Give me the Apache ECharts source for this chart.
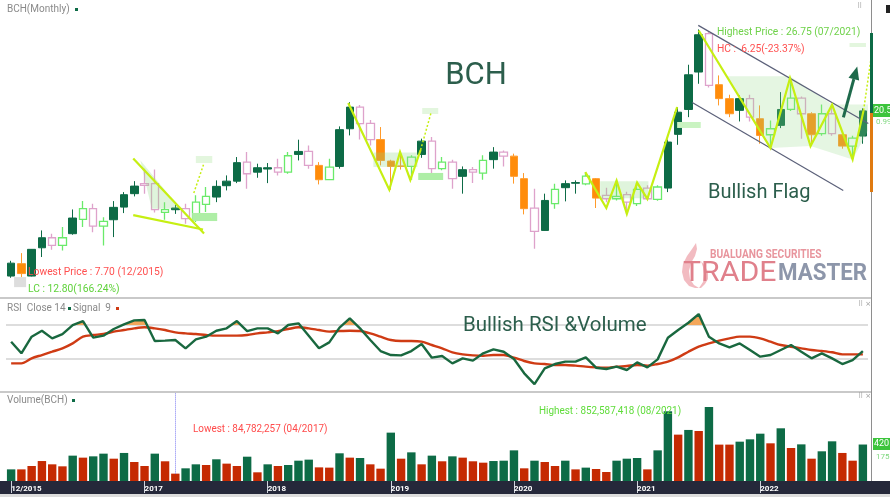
<!DOCTYPE html>
<html>
<head>
<meta charset="utf-8">
<title>BCH Monthly</title>
<script src="https://cdn.jsdelivr.net/npm/echarts@6/dist/echarts.min.js"></script>
<style>
  html, body { margin: 0; padding: 0; background: #fff; }
  #main { width: 890px; height: 497px; }
</style>
</head>
<body>
<div id="main"></div>
<script type="text/javascript">
// months shown on the chart (12/2015 .. 11/2022)
var months = [
  '12/2015',
  '01/2016','02/2016','03/2016','04/2016','05/2016','06/2016','07/2016','08/2016','09/2016','10/2016','11/2016','12/2016',
  '01/2017','02/2017','03/2017','04/2017','05/2017','06/2017','07/2017','08/2017','09/2017','10/2017','11/2017','12/2017',
  '01/2018','02/2018','03/2018','04/2018','05/2018','06/2018','07/2018','08/2018','09/2018','10/2018','11/2018','12/2018',
  '01/2019','02/2019','03/2019','04/2019','05/2019','06/2019','07/2019','08/2019','09/2019','10/2019','11/2019','12/2019',
  '01/2020','02/2020','03/2020','04/2020','05/2020','06/2020','07/2020','08/2020','09/2020','10/2020','11/2020','12/2020',
  '01/2021','02/2021','03/2021','04/2021','05/2021','06/2021','07/2021','08/2021','09/2021','10/2021','11/2021','12/2021',
  '01/2022','02/2022','03/2022','04/2022','05/2022','06/2022','07/2022','08/2022','09/2022','10/2022','11/2022'
];
var tickMonths = ['12/2015', '01/2017', '01/2018', '01/2019', '01/2020', '01/2021', '01/2022'];
var tickTexts  = ['12/2015', '2017', '2018', '2019', '2020', '2021', '2022'];

var opens = [
  7.83, 8.78, 7.83, 10.00, 10.77, 10.18, 11.08, 12.18, 13.00, 11.66,
  12.15, 13.12, 14.15, 14.92, 14.92, 12.71, 12.92, 13.00, 12.23, 13.33,
  13.89, 14.76, 15.11, 16.57, 15.80, 16.04, 16.14, 15.80, 17.16, 17.39,
  16.32, 15.22, 16.24, 19.13, 20.79, 19.55, 18.30, 16.65, 16.28, 16.24,
  17.16, 18.18, 16.07, 16.57, 15.48, 15.99, 15.73, 16.76, 17.34, 17.03,
  15.30, 13.04, 11.33, 13.38, 14.61, 14.95, 14.90, 15.30, 14.02, 13.76,
  14.07, 13.38, 14.58, 13.71, 14.58, 18.70, 20.61, 23.48, 26.42, 22.51,
  21.44, 20.54, 21.44, 19.90, 18.67, 19.39, 20.61, 21.48, 20.28, 18.75,
  20.28, 18.67, 17.80, 18.57
];
var highs = [
  9.00, 9.59, 9.90, 11.33, 11.08, 11.59, 12.94, 13.58, 13.38, 12.35,
  13.58, 14.27, 15.11, 16.07, 16.00, 13.50, 13.30, 13.38, 14.02, 14.66,
  15.17, 15.55, 16.96, 17.34, 16.45, 16.50, 16.83, 17.34, 18.29, 17.85,
  16.57, 16.83, 19.31, 21.17, 20.95, 19.80, 19.26, 16.75, 17.34, 17.10,
  18.37, 18.50, 16.96, 16.76, 16.24, 16.19, 17.09, 17.72, 17.47, 17.22,
  15.73, 14.53, 14.15, 14.92, 15.17, 15.17, 15.80, 15.35, 14.60, 15.17,
  14.30, 14.99, 14.80, 14.80, 18.30, 20.80, 24.04, 26.75, 26.60, 23.22,
  21.74, 21.69, 21.74, 20.92, 19.77, 21.94, 22.97, 21.60, 20.40, 21.00,
  20.97, 18.80, 18.60, 20.70
];
var lows = [
  7.70, 7.75, 7.80, 9.29, 9.85, 9.80, 11.00, 11.59, 11.20, 10.18,
  10.82, 12.66, 13.94, 14.15, 12.70, 12.15, 12.60, 11.85, 11.97, 12.74,
  13.50, 14.40, 14.96, 14.53, 15.37, 14.96, 15.55, 15.68, 16.70, 16.07,
  14.86, 15.17, 16.07, 18.62, 18.30, 17.85, 16.32, 14.45, 16.00, 15.22,
  16.90, 15.73, 15.94, 14.53, 14.15, 14.96, 15.22, 16.07, 16.24, 14.92,
  12.56, 9.93, 11.30, 13.00, 13.56, 14.15, 14.80, 13.05, 13.50, 13.63,
  12.61, 13.20, 13.70, 13.60, 14.27, 17.90, 20.02, 22.58, 22.30, 20.92,
  20.02, 19.69, 19.69, 17.98, 17.75, 19.18, 20.50, 18.37, 17.80, 18.60,
  18.60, 17.60, 16.80, 17.98
];
var closes = [
  8.82, 8.02, 9.88, 10.77, 10.18, 10.77, 12.28, 13.00, 11.66, 12.02,
  13.10, 14.07, 14.73, 14.78, 12.92, 12.92, 13.05, 12.23, 13.50, 13.94,
  14.71, 15.11, 16.53, 15.68, 16.14, 16.14, 15.80, 17.06, 17.39, 16.32,
  15.22, 16.19, 19.06, 20.79, 19.52, 18.30, 16.70, 16.24, 16.24, 16.96,
  18.18, 16.07, 16.57, 15.30, 15.99, 15.80, 16.70, 17.34, 17.03, 15.48,
  13.00, 11.26, 13.63, 14.48, 14.92, 15.00, 15.50, 13.81, 13.76, 13.94,
  13.50, 14.48, 13.76, 14.66, 18.11, 20.40, 23.27, 26.34, 22.45, 21.44,
  20.28, 21.44, 20.02, 18.62, 19.13, 20.61, 21.48, 20.28, 18.67, 20.28,
  18.75, 17.80, 18.41, 20.50
];
// candle look:
// G dark green solid, O orange solid, P pink hollow, L light green hollow
var candleKind = ('GOGGPLGLPL' + 'GGGPPLGPLL' + 'GGGPGGPLGP' + 'OLGGPPOOOL' + 'GPLPGPLGPO' +
                  'OPGLGGLOPL' + 'PLPLGGGGPO' + 'OGPOLGLPOL' + 'POLG').split('');

// volume in millions of shares
var volumeM = [
  134, 134, 173, 230, 192, 169, 292, 269, 284, 315,
  257, 323, 219, 173, 315, 227, 84.78, 146, 192, 184,
  250, 200, 173, 280, 100, 192, 173, 184, 234, 246,
  157, 154, 319, 269, 265, 192, 142, 557, 257, 330,
  192, 292, 227, 284, 269, 227, 211, 230, 234, 353,
  146, 234, 219, 173, 234, 134, 154, 138, 104, 234,
  257, 265, 134, 353, 803, 534, 588, 576, 852.59, 419,
  419, 453, 480, 545, 434, 607, 380, 422, 257, 342,
  457, 323, 234, 420.1
];
var volumeSide = ('gruurrgrgg' + 'rgrrgrrggr' + 'grrgrgrggg' + 'rrgrgrrgrg' + 'rgrgrrrggg' +
                  'rgrrgrgrrg' + 'ggrggrgrgr' + 'rgggrgrgrg' + 'grrg').split('');

var rsi14 = [
  50.4, 36.7, 56.3, 63.3, 54.3, 59.4, 70.0, 74.7, 55.1, 57.5,
  65.3, 70.8, 75.5, 75.9, 51.2, 51.6, 52.4, 42.6, 53.1, 56.3,
  63.3, 66.1, 74.7, 62.9, 66.1, 66.1, 60.2, 70.0, 72.0, 57.5,
  42.6, 49.6, 66.9, 77.8, 66.1, 52.4, 39.4, 34.7, 34.3, 39.4,
  47.7, 31.6, 33.5, 24.9, 30.8, 28.1, 36.7, 41.4, 38.6, 30.0,
  13.2, 0.5, 19.0, 24.1, 26.9, 26.9, 32.0, 19.8, 18.3, 21.0,
  17.1, 26.1, 20.2, 29.6, 55.1, 64.1, 72.7, 82.9, 56.3, 48.4,
  43.7, 48.4, 40.6, 32.8, 34.7, 40.6, 46.5, 38.6, 30.8, 36.7,
  30.8, 24.1, 28.8, 39.4
];
var rsiSignal9 = [
  24.9, 24.9, 30.8, 34.7, 38.6, 42.6, 48.4, 56.3, 58.2, 59.4,
  62.2, 64.1, 66.1, 67.3, 66.1, 64.1, 61.4, 60.2, 59.4, 58.2,
  57.5, 57.5, 57.5, 58.2, 60.2, 61.4, 62.9, 65.3, 67.3, 66.1,
  64.1, 62.2, 62.9, 63.3, 62.9, 60.2, 56.3, 52.4, 51.2, 51.2,
  50.4, 46.5, 42.6, 37.9, 35.5, 34.3, 33.9, 34.7, 34.7, 31.6,
  27.7, 24.9, 24.1, 23.0, 23.0, 22.2, 21.0, 20.2, 19.8, 21.0,
  21.8, 23.0, 22.2, 24.1, 26.9, 32.0, 38.6, 44.5, 48.4, 51.6,
  54.3, 56.3, 56.3, 54.3, 50.4, 46.5, 44.5, 42.6, 40.6, 39.4,
  37.9, 35.5, 35.5, 35.5
];
var rsiLevels = [70, 30];

// drawn annotations, in (month index, price)
var pennantUpper = [[11.9, 16.85], [18.8, 11.1]];
var pennantLower = [[11.9, 12.5], [18.7, 11.4]];
var pennantShade = [[12.6, 16.7], [13.7, 13.0], [16.5, 13.0]];
var pennantBreakout = [[17.8, 14.2], [18.8, 16.5]];
var wLeg = [[32.85, 21.1], [36.85, 14.45], [37.9, 17.35], [38.9, 15.2], [39.9, 17.5]];
var wBreakout = [[39.9, 17.5], [40.9, 20.3]];
var wShade = [[35.3, 17.3], [39.6, 16.2]];
var baseLeg = [[55.95, 15.8], [58.0, 13.05], [59.0, 15.15], [60.0, 12.6], [61.0, 15.0], [62.0, 13.75], [64.9, 20.8]];
var baseShade = [[57.4, 15.1], [62.1, 13.8]];
var flagLeg = [[67.0, 26.67], [74.0, 17.65], [75.9, 23.0], [77.9, 17.8], [80.0, 20.97], [82.0, 16.78], [83.07, 20.54]];
var flagBreakout = [[83.07, 20.54], [83.9, 25.1]];
var flagShade = [[69.7, 23.15], [75.9, 23.15], [80.0, 21.0], [83.5, 21.0], [83.5, 19.0], [82.0, 16.78], [77.9, 17.8], [74.0, 17.65]];
var channelUpper = [[66.96, 27.06], [83.53, 19.54]];
var channelLower = [[66.37, 21.15], [81.09, 14.4]];
var breakoutArrow = [[81.1, 20.0], [82.45, 23.9]];
var tagBoxes = [
  [[18.0, 17.04], [19.6, 16.5]],
  [[17.64, 12.67], [20.08, 12.05]],
  [[40.06, 20.72], [41.62, 20.26]],
  [[39.67, 15.74], [42.1, 15.2]],
  [[64.9, 19.65], [67.2, 19.19]],
  [[81.7, 25.71], [83.3, 25.4]],
  [[0.29, 7.75], [1.46, 6.98]]
];
var tagFills = ['#e3f6de', '#aeeea6', '#e3f6de', '#aeeea6', '#c9f3c1', '#e3f6de', '#dddddd'];

var chartDom = document.getElementById('main');
var myChart = echarts.init(chartDom, null, {renderer: 'canvas'});

var darkGreen = '#0d6b46';
var lime = '#c6ef12';
var uiFont = 'Roboto, sans-serif';

var kindStyle = {
  G: {color: darkGreen, color0: darkGreen, borderColor: darkGreen, borderColor0: darkGreen, borderWidth: 1},
  O: {color: '#ff8c0a', color0: '#ff8c0a', borderColor: '#ff9a2a', borderColor0: '#ff9a2a', borderWidth: 1},
  P: {color: '#ffffff', color0: '#ffffff', borderColor: '#dea2cb', borderColor0: '#dea2cb', borderWidth: 1.3},
  L: {color: '#ffffff', color0: '#ffffff', borderColor: '#6aea6a', borderColor0: '#6aea6a', borderWidth: 1.3}
};

var candles = months.map(function (m, i) {
  return {value: [opens[i], closes[i], lows[i], highs[i]], itemStyle: kindStyle[candleKind[i]]};
});
var volumes = volumeM.map(function (v, i) {
  return {value: v, itemStyle: {color: volumeSide[i] === 'g' ? darkGreen : '#c52a02'}};
});

// pieces of the RSI line above the 70 level, with the crossing points
function overLevel(vals, level) {
  var polys = [], cur = null;
  for (var i = 0; i < vals.length; i++) {
    var v = vals[i];
    if (i > 0) {
      var pv = vals[i - 1];
      if ((pv > level) !== (v > level)) {
        var x = i - 1 + (level - pv) / (v - pv);
        if (cur) { cur.push([x, level]); polys.push(cur); cur = null; }
        else cur = [[x, level]];
      }
    }
    if (v > level) {
      if (!cur) cur = [[i, level]];
      cur.push([i, v]);
    }
  }
  if (cur) { cur.push([vals.length - 1, level]); polys.push(cur); }
  return polys;
}

function noteSeries(xi, yi, notes, z) {
  return {
    type: 'custom', xAxisIndex: xi, yAxisIndex: yi, z: z, silent: true, clip: false,
    data: notes.map(function (n) { return n.pts[0]; }),
    renderItem: function (params, api) {
      var n = notes[params.dataIndex];
      var pts = n.pts.map(function (p) { return api.coord(p); });
      if (n.kind === 'box') {
        return {type: 'rect', shape: {
          x: Math.min(pts[0][0], pts[1][0]), y: Math.min(pts[0][1], pts[1][1]),
          width: Math.abs(pts[1][0] - pts[0][0]), height: Math.abs(pts[1][1] - pts[0][1])
        }, style: {fill: n.fill}};
      }
      if (n.kind === 'poly') {
        return {type: 'polygon', shape: {points: pts}, style: {fill: n.fill}};
      }
      if (n.kind === 'arrow') {
        var a = pts[0], b = pts[1];
        var ang = Math.atan2(b[1] - a[1], b[0] - a[0]), L = 13, W = 5.5;
        var base = [b[0] - L * Math.cos(ang), b[1] - L * Math.sin(ang)];
        return {type: 'group', children: [
          {type: 'line', shape: {x1: a[0], y1: a[1], x2: base[0], y2: base[1]}, style: {stroke: n.color, lineWidth: n.width}},
          {type: 'polygon', shape: {points: [b,
            [base[0] + W * Math.sin(ang), base[1] - W * Math.cos(ang)],
            [base[0] - W * Math.sin(ang), base[1] + W * Math.cos(ang)]]}, style: {fill: n.color}}
        ]};
      }
      return {type: 'polyline', shape: {points: pts},
        style: {stroke: n.color, lineWidth: n.width, fill: null, lineDash: n.dash || null}};
    }
  };
}

var shadeFill = 'rgba(140,215,130,0.28)';
var priceNotes = [
  {kind: 'poly', pts: pennantShade, fill: shadeFill},
  {kind: 'box', pts: wShade, fill: shadeFill},
  {kind: 'box', pts: baseShade, fill: shadeFill},
  {kind: 'poly', pts: flagShade, fill: 'rgba(150,220,140,0.25)'}
];
tagBoxes.forEach(function (b, i) { priceNotes.push({kind: 'box', pts: b, fill: tagFills[i]}); });
priceNotes = priceNotes.concat([
  {kind: 'line', pts: channelUpper, color: '#5b6079', width: 1.2},
  {kind: 'line', pts: channelLower, color: '#5b6079', width: 1.2},
  {kind: 'line', pts: pennantUpper, color: lime, width: 2.2},
  {kind: 'line', pts: pennantLower, color: lime, width: 2.2},
  {kind: 'line', pts: pennantBreakout, color: lime, width: 1.5, dash: [2, 2]},
  {kind: 'line', pts: wLeg, color: lime, width: 2.2},
  {kind: 'line', pts: wBreakout, color: lime, width: 1.5, dash: [2, 2]},
  {kind: 'line', pts: baseLeg, color: lime, width: 2.2},
  {kind: 'line', pts: flagLeg, color: lime, width: 2.2},
  {kind: 'line', pts: flagBreakout, color: lime, width: 1.5, dash: [2, 2]},
  {kind: 'arrow', pts: breakoutArrow, color: '#1e6a4b', width: 3}
]);

var rsiNotes = overLevel(rsi14, rsiLevels[0]).map(function (p) {
  return {kind: 'poly', pts: p, fill: '#f4a75a'};
});

var isTick = function (i, v) { return tickMonths.indexOf(v) >= 0; };

function txt(x, y, text, font, fill, align, sx) {
  return {type: 'text', x: x, y: y, z: 100, silent: true, scaleX: sx || 1, style: {
    text: text, font: font, fill: fill,
    align: align || 'left', textAlign: align || 'left',
    verticalAlign: 'middle', textVerticalAlign: 'middle'
  }};
}
function box(x, y, w, h, fill, z) {
  return {type: 'rect', z: z || 90, silent: true, shape: {x: x, y: y, width: w, height: h}, style: {fill: fill}};
}
function shape(points, fill) {
  return {type: 'polygon', z: 1, silent: true, shape: {points: points}, style: {fill: fill}};
}

option = {
  animation: false,
  backgroundColor: '#ffffff',
  grid: [
    {left: 6, width: 862, top: 4, height: 292},
    {left: 6, width: 862, top: 298, height: 94},
    {left: 6, width: 862, top: 392, height: 89}
  ],
  xAxis: [
    {type: 'category', gridIndex: 0, data: months, show: false},
    {type: 'category', gridIndex: 1, data: months, show: false},
    {type: 'category', gridIndex: 2, data: months,
      axisLine: {show: false},
      axisTick: {show: true, alignWithLabel: true, interval: isTick, length: 12, lineStyle: {color: '#cfd3dc'}},
      axisLabel: {interval: isTick, align: 'left', margin: 4, color: '#ffffff', fontSize: 8,
        fontFamily: uiFont, fontWeight: 'bold',
        formatter: function (v) { return tickTexts[tickMonths.indexOf(v)]; }},
      splitLine: {show: false}},
    {type: 'value', gridIndex: 0, min: -0.5, max: 83.5, show: false},
    {type: 'value', gridIndex: 1, min: -0.5, max: 83.5, show: false},
    {type: 'value', gridIndex: 2, min: -0.5, max: 83.5, show: false}
  ],
  yAxis: [
    {type: 'value', gridIndex: 0, min: 6.3, max: 28.7, show: false},
    {type: 'value', gridIndex: 1, min: -8.8, max: 101.8, show: false},
    {type: 'value', gridIndex: 2, min: 0, max: 1025, show: false}
  ],
  series: [
    {type: 'candlestick', name: 'BCH', xAxisIndex: 0, yAxisIndex: 0, barWidth: 8, silent: true, z: 2, data: candles},
    noteSeries(3, 0, priceNotes, 3),
    noteSeries(4, 1, rsiNotes, 5),
    {type: 'line', name: 'RSI', xAxisIndex: 1, yAxisIndex: 1, data: rsi14, symbol: 'none', silent: true, z: 6,
      lineStyle: {color: '#19683f', width: 2.4},
      markLine: {silent: true, symbol: 'none', label: {show: false}, z: 1,
        lineStyle: {color: '#d2d2d2', type: 'solid', width: 1.5},
        data: rsiLevels.map(function (l) { return {yAxis: l}; })}},
    {type: 'line', name: 'Signal', xAxisIndex: 1, yAxisIndex: 1, data: rsiSignal9, symbol: 'none', silent: true, z: 5,
      smooth: 0.3, lineStyle: {color: '#cf3b14', width: 2.4}},
    {type: 'bar', name: 'Volume', xAxisIndex: 2, yAxisIndex: 2, barWidth: '82%', silent: true, data: volumes,
      markLine: {silent: true, symbol: 'none', label: {show: false},
        lineStyle: {color: '#7d7df2', type: 'dotted', width: 1},
        data: [[{coord: [months[16], 84.78]}, {coord: [months[16], 1025]}]]}}
  ],
  graphic: [
    box(0, 481, 890, 13, '#25283a', -10),
    box(0, 494, 890, 3, '#dcdcdc', -10),
    box(0, 297, 871, 2, '#c9c9c9'),
    box(0, 391, 871, 2, '#c9c9c9'),
    box(871, 0, 1, 481, '#8e8e8e'),
    box(870, 33, 3, 80, darkGreen),
    box(870, 113, 3, 79, '#e07a10'),
    box(886, 5, 4, 8, '#222222'),
    // pane headers
    txt(7, 9.5, 'BCH(Monthly)', '10px ' + uiFont, '#8a8a8a'),
    box(75, 8, 3, 3, darkGreen),
    txt(7, 308.5, 'RSI  Close 14', '10px ' + uiFont, '#8a8a8a'),
    box(68, 307, 3, 3, darkGreen),
    txt(73, 308.5, 'Signal  9', '10px ' + uiFont, '#8a8a8a'),
    box(116, 307, 3, 3, '#cf3b14'),
    txt(7, 400.5, 'Volume(BCH)', '10px ' + uiFont, '#8a8a8a'),
    box(72, 399, 3, 3, darkGreen),
    txt(857, 6, '\u283F', '7px "DejaVu Sans"', '#9a9a9a'),
    txt(858, 304, '\u283F \u00D7', '7px "DejaVu Sans"', '#9a9a9a'),
    txt(858, 396, '\u283F \u00D7', '7px "DejaVu Sans"', '#9a9a9a'),
    // headlines
    txt(476, 76, 'BCH', '31px ' + uiFont, '#2c5e4c', 'center'),
    txt(708, 192.5, 'Bullish Flag', '20px ' + uiFont, '#2c5e4c'),
    txt(463, 326, 'Bullish RSI &Volume', '20.5px ' + uiFont, '#2c5e4c'),
    // extreme labels
    txt(28, 272.5, 'Lowest Price : 7.70 (12/2015)', '11.5px ' + uiFont, '#ff5050', 'left', 0.895),
    txt(28, 289.5, 'LC : 12.80(166.24%)', '11.5px ' + uiFont, '#5fd23a', 'left', 0.895),
    txt(717, 32.5, 'Highest Price : 26.75 (07/2021)', '11.5px ' + uiFont, '#6fd24a', 'left', 0.895),
    txt(717, 49.5, 'HC :  6.25(-23.37%)', '11.5px ' + uiFont, '#ff5050', 'left', 0.895),
    txt(193, 429.5, 'Lowest : 84,782,257 (04/2017)', '11px ' + uiFont, '#ff4a4a', 'left', 0.9),
    txt(539, 411, 'Highest : 852,587,418 (08/2021)', '11px ' + uiFont, '#5fdc3a', 'left', 0.9),
    // last values on the right scale
    box(873, 104, 17, 13, '#3cc43c'),
    txt(874, 110.5, '20.50', '9px ' + uiFont, '#ffffff'),
    txt(876, 122, '0.99', '8px ' + uiFont, '#7fd87f'),
    box(873, 438, 17, 12, '#3cc43c'),
    txt(874, 444, '420.1', '9px ' + uiFont, '#ffffff'),
    txt(876, 457, '175.3', '8px ' + uiFont, '#7fd87f'),
    // watermark
    shape([[696, 243], [692, 249], [687, 256], [683, 264], [682, 272], [684, 280], [689, 286], [695, 288], [699, 288],
           [694, 285], [690, 279], [689, 271], [691, 263], [695, 256], [697, 249]], 'rgba(231,132,142,0.55)'),
    shape([[701, 261], [705, 266], [708, 272], [708, 279], [705, 284], [701, 288], [699, 288],
           [703, 282], [704, 274], [703, 267]], 'rgba(231,132,142,0.55)'),
    txt(710, 255, 'BUALUANG SECURITIES', 'bold 12px ' + uiFont, '#e8959d', 'left', 0.85),
    txt(683, 274, 'TRADE', '28px ' + uiFont, '#e0808b', 'left', 1.08),
    txt(778, 274, 'MASTER', 'bold 24px ' + uiFont, '#8d96aa', 'left', 0.93)
  ]
};
myChart.setOption(option);
</script>
</body>
</html>
